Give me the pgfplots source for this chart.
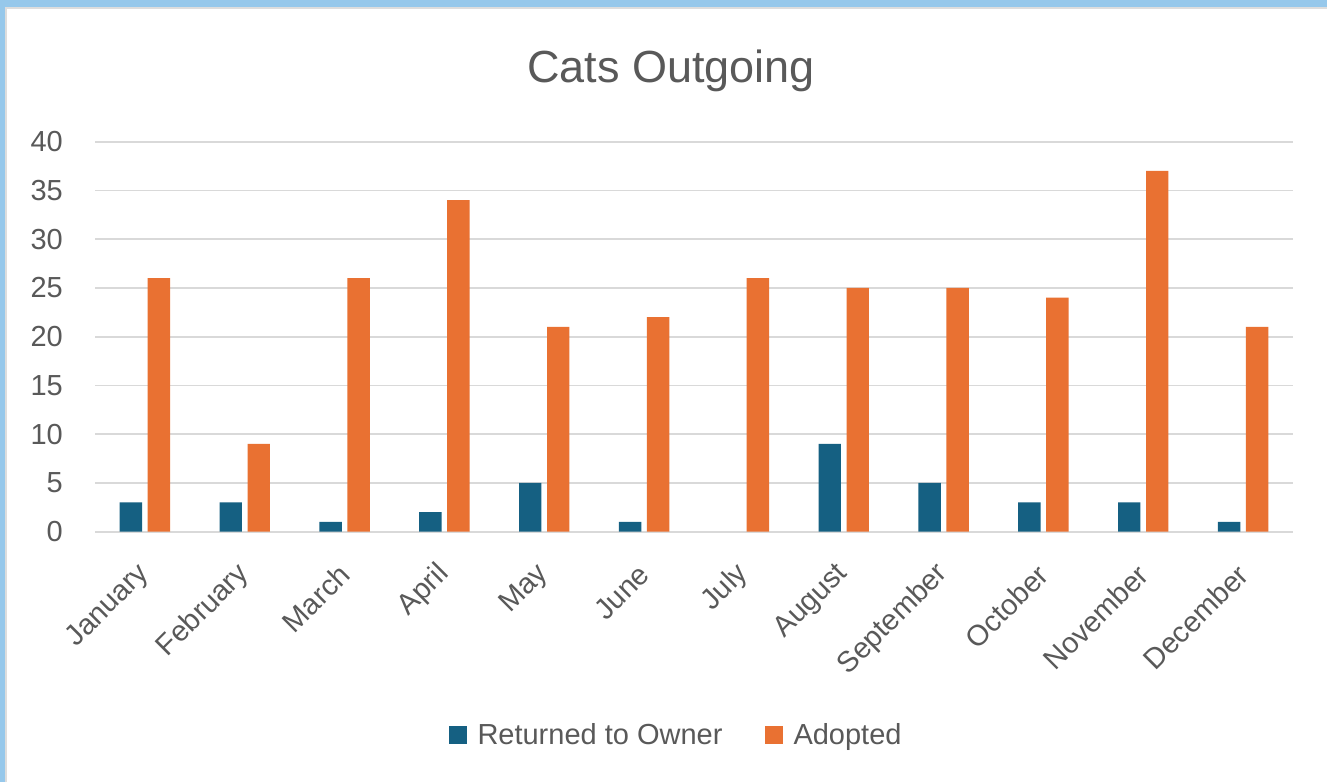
\documentclass[border=0pt]{standalone}
\usepackage{fontspec}
\setmainfont{Liberation Sans}
\usepackage{pgfplots}
\pgfplotsset{compat=1.18}
\definecolor{cblue}{HTML}{156082}
\definecolor{corange}{HTML}{E97132}
\definecolor{txt}{HTML}{595959}
\definecolor{gridc}{HTML}{D9D9D9}
\definecolor{frameblue}{HTML}{96C8EB}
\definecolor{framegrey}{HTML}{DDDDDD}
\begin{document}
\begin{tikzpicture}
\path[use as bounding box] (0,0) rectangle (1327pt,782pt);
\fill[white] (0,0) rectangle (1327pt,782pt);
\fill[frameblue] (0,775pt) rectangle (1327pt,782pt);
\fill[frameblue] (0,0) rectangle (5pt,782pt);
\draw[framegrey, line width=1.5pt] (6pt,0) -- (6pt,774pt) -- (1327pt,774pt);
\begin{axis}[
  at={(95pt,250.3pt)}, anchor=south west,
  scale only axis, width=1198pt, height=390pt,
  ybar=5.6pt, bar width=22.4pt,
  xmin=-0.5, xmax=11.5, ymin=0, ymax=40,
  xtick={0,...,11},
  xticklabels={January,February,March,April,May,June,July,August,September,October,November,December},
  ytick={0,5,...,40},
  ymajorgrids, grid style={gridc, line width=1.8pt},
  axis line style={draw=none}, major tick length=0pt,
  tick label style={font=\fontsize{29}{35}\selectfont, text=txt},
  /pgf/number format/assume math mode=true,
  yticklabel style={anchor=east, inner sep=0pt, xshift=-32pt},
  xticklabel style={rotate=45, anchor=east, inner sep=0pt},
  xticklabel shift=38pt,
  title={Cats Outgoing},
  title style={at={(0.481,1.165)}, anchor=center, font=\fontsize{45}{54}\selectfont, text=txt},
  legend style={at={(0.485,-0.521)}, anchor=center, draw=none, fill=none,
    font=\fontsize{29}{35}\selectfont, text=txt, legend columns=-1,
    /tikz/every odd column/.append style={column sep=9pt},
    /tikz/every even column/.append style={column sep=40pt}},
  legend image code/.code={\fill[#1, draw=none] (0pt,-9pt) rectangle (18pt,9pt);},
  legend cell align=left,
]
\addplot[fill=cblue, draw=none] coordinates {(0,3) (1,3) (2,1) (3,2) (4,5) (5,1) (7,9) (8,5) (9,3) (10,3) (11,1)};
\addplot[fill=corange, draw=none] coordinates {(0,26) (1,9) (2,26) (3,34) (4,21) (5,22) (6,26) (7,25) (8,25) (9,24) (10,37) (11,21)};
\legend{Returned to Owner, Adopted}
\end{axis}
\end{tikzpicture}
\end{document}
